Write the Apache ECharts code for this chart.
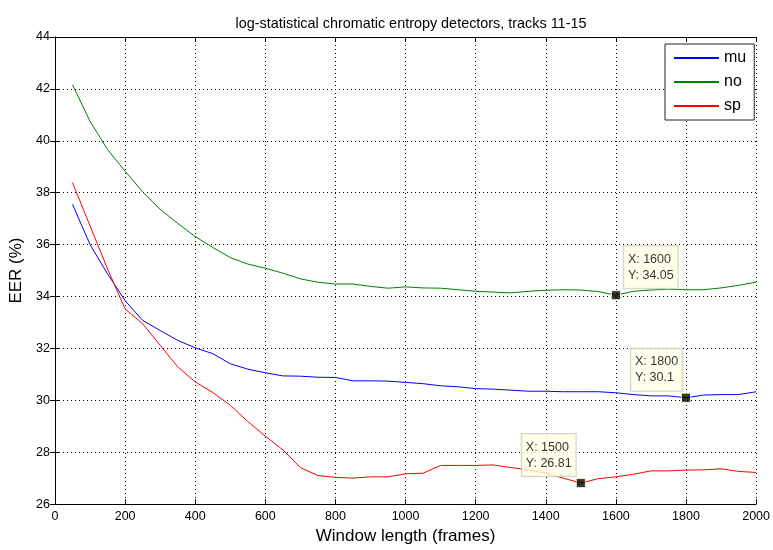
<!DOCTYPE html>
<html>
<head>
<meta charset="utf-8">
<script src="https://cdn.jsdelivr.net/npm/echarts@6/dist/echarts.min.js"></script>
<style>
  html, body { margin: 0; padding: 0; background: #fff; }
  #chart { width: 773px; height: 550px; }
</style>
</head>
<body>
<div id="chart"></div>
<script>
// Window lengths (frames), one sample every 50 frames
const windowLengths = [50, 100, 150, 200, 250, 300, 350, 400, 450, 500,
  550, 600, 650, 700, 750, 800, 850, 900, 950, 1000,
  1050, 1100, 1150, 1200, 1250, 1300, 1350, 1400, 1450, 1500,
  1550, 1600, 1650, 1700, 1750, 1800, 1850, 1900, 1950, 2000];

// EER (%) per detector
const eerMu = [37.55, 36.0, 34.87, 33.84, 33.08, 32.69, 32.31, 32.02, 31.8, 31.41,
  31.2, 31.06, 30.94, 30.93, 30.89, 30.88, 30.75, 30.75, 30.74, 30.69,
  30.64, 30.56, 30.52, 30.45, 30.43, 30.39, 30.35, 30.35, 30.33, 30.33,
  30.33, 30.29, 30.22, 30.17, 30.17, 30.1, 30.2, 30.22, 30.22, 30.33];

const eerNo = [42.16, 40.75, 39.66, 38.83, 38.03, 37.36, 36.82, 36.31, 35.89, 35.5,
  35.25, 35.09, 34.9, 34.68, 34.55, 34.48, 34.48, 34.39, 34.32, 34.37,
  34.33, 34.32, 34.26, 34.2, 34.17, 34.14, 34.2, 34.24, 34.26, 34.25,
  34.19, 34.05, 34.2, 34.25, 34.28, 34.26, 34.26, 34.33, 34.43, 34.55];

const eerSp = [38.39, 36.72, 35.06, 33.52, 32.95, 32.12, 31.29, 30.71, 30.3, 29.81,
  29.18, 28.62, 28.09, 27.41, 27.1, 27.03, 27.0, 27.05, 27.05, 27.17,
  27.19, 27.49, 27.49, 27.49, 27.51, 27.41, 27.32, 27.19, 27.0, 26.81,
  26.98, 27.05, 27.15, 27.28, 27.28, 27.31, 27.32, 27.36, 27.26, 27.22];

const seriesNames = ['mu', 'no', 'sp'];

// Data tips: which curve, at which window length, and where the box sits
// (offset is from the marker centre to the box's left edge)
const tips = [
  { values: eerNo, x: 1600, offset: [8, -1] },
  { values: eerMu, x: 1800, offset: [-55, -1] },
  { values: eerSp, x: 1500, offset: [-59, -1] }
];

const pairs = vals => windowLengths.map((w, i) => [w, vals[i]]);
const font = 'Liberation Sans, Arial, Helvetica, sans-serif';

const tipData = tips.map(t => {
  const i = windowLengths.indexOf(t.x);
  const y = t.values[i];
  return {
    value: [t.x, y],
    label: {
      offset: t.offset,
      formatter: 'X: ' + t.x + '\nY: ' + y
    }
  };
});

const chart = echarts.init(document.getElementById('chart'), null, { renderer: 'canvas' });

const boxAxis = {
  axisLine: { show: true, lineStyle: { color: '#000', width: 1 } },
  axisTick: { show: true, inside: true, length: 5, lineStyle: { color: '#000' } },
};
const gridDots = { show: true, lineStyle: { color: '#000', type: [1, 3], width: 1 } };

chart.setOption({
  backgroundColor: '#fff',
  animation: false,
  title: {
    text: 'log-statistical chromatic entropy detectors, tracks 11-15',
    left: 406,
    textAlign: 'center',
    top: 12,
    textStyle: { fontFamily: font, fontSize: 14.4, fontWeight: 'normal', color: '#000' }
  },
  grid: { left: 55, right: 14, top: 37, bottom: 44, containLabel: false },
  legend: {
    data: seriesNames,
    orient: 'vertical',
    left: 665,
    top: 44,
    padding: [6, 8, 6, 8],
    itemWidth: 45,
    itemHeight: 14,
    itemGap: 8,
    itemStyle: { opacity: 0 },
    backgroundColor: '#fff',
    borderColor: '#222',
    borderWidth: 1,
    textStyle: { fontFamily: font, fontSize: 16, color: '#000' }
  },
  xAxis: [
    Object.assign({
      type: 'value', min: 0, max: 2000, interval: 200,
      name: 'Window length (frames)', nameLocation: 'middle', nameGap: 18,
      nameTextStyle: { fontFamily: font, fontSize: 17, color: '#000' },
      axisLabel: { fontFamily: font, fontSize: 12.5, color: '#000', margin: 6,
        formatter: v => String(v) },
      splitLine: gridDots
    }, boxAxis),
    Object.assign({
      type: 'value', min: 0, max: 2000, interval: 200, position: 'top',
      axisLabel: { show: false }, splitLine: { show: false }
    }, boxAxis)
  ],
  yAxis: [
    Object.assign({
      type: 'value', min: 26, max: 44, interval: 2,
      name: 'EER (%)', nameLocation: 'middle', nameGap: 27,
      nameTextStyle: { fontFamily: font, fontSize: 17, color: '#000' },
      axisLabel: { fontFamily: font, fontSize: 12.5, color: '#000', margin: 5,
        formatter: v => String(v) },
      splitLine: gridDots
    }, boxAxis),
    Object.assign({
      type: 'value', min: 26, max: 44, interval: 2, position: 'right',
      axisLabel: { show: false }, splitLine: { show: false }
    }, boxAxis)
  ],
  series: [
    { name: 'mu', type: 'line', data: pairs(eerMu), symbol: 'none', color: '#0000ff',
      lineStyle: { width: 1, color: '#0000ff' } },
    { name: 'no', type: 'line', data: pairs(eerNo), symbol: 'none', color: '#008000',
      lineStyle: { width: 1, color: '#008000' } },
    { name: 'sp', type: 'line', data: pairs(eerSp), symbol: 'none', color: '#ff0000',
      lineStyle: { width: 1, color: '#ff0000' } },
    {
      name: 'tips', type: 'scatter', data: tipData, z: 10,
      symbol: 'rect', symbolSize: 9,
      itemStyle: { color: '#000', borderColor: '#ffffd0', borderWidth: 1 },
      label: {
        show: true, position: 'top', distance: 1,
        align: 'left',
        fontFamily: font, fontSize: 12.5, color: '#000', lineHeight: 16,
        backgroundColor: '#ffffe6', borderColor: '#c8c8b4', borderWidth: 1,
        padding: [5, 4, 5, 4]
      }
    }
  ]
});
</script>
</body>
</html>
